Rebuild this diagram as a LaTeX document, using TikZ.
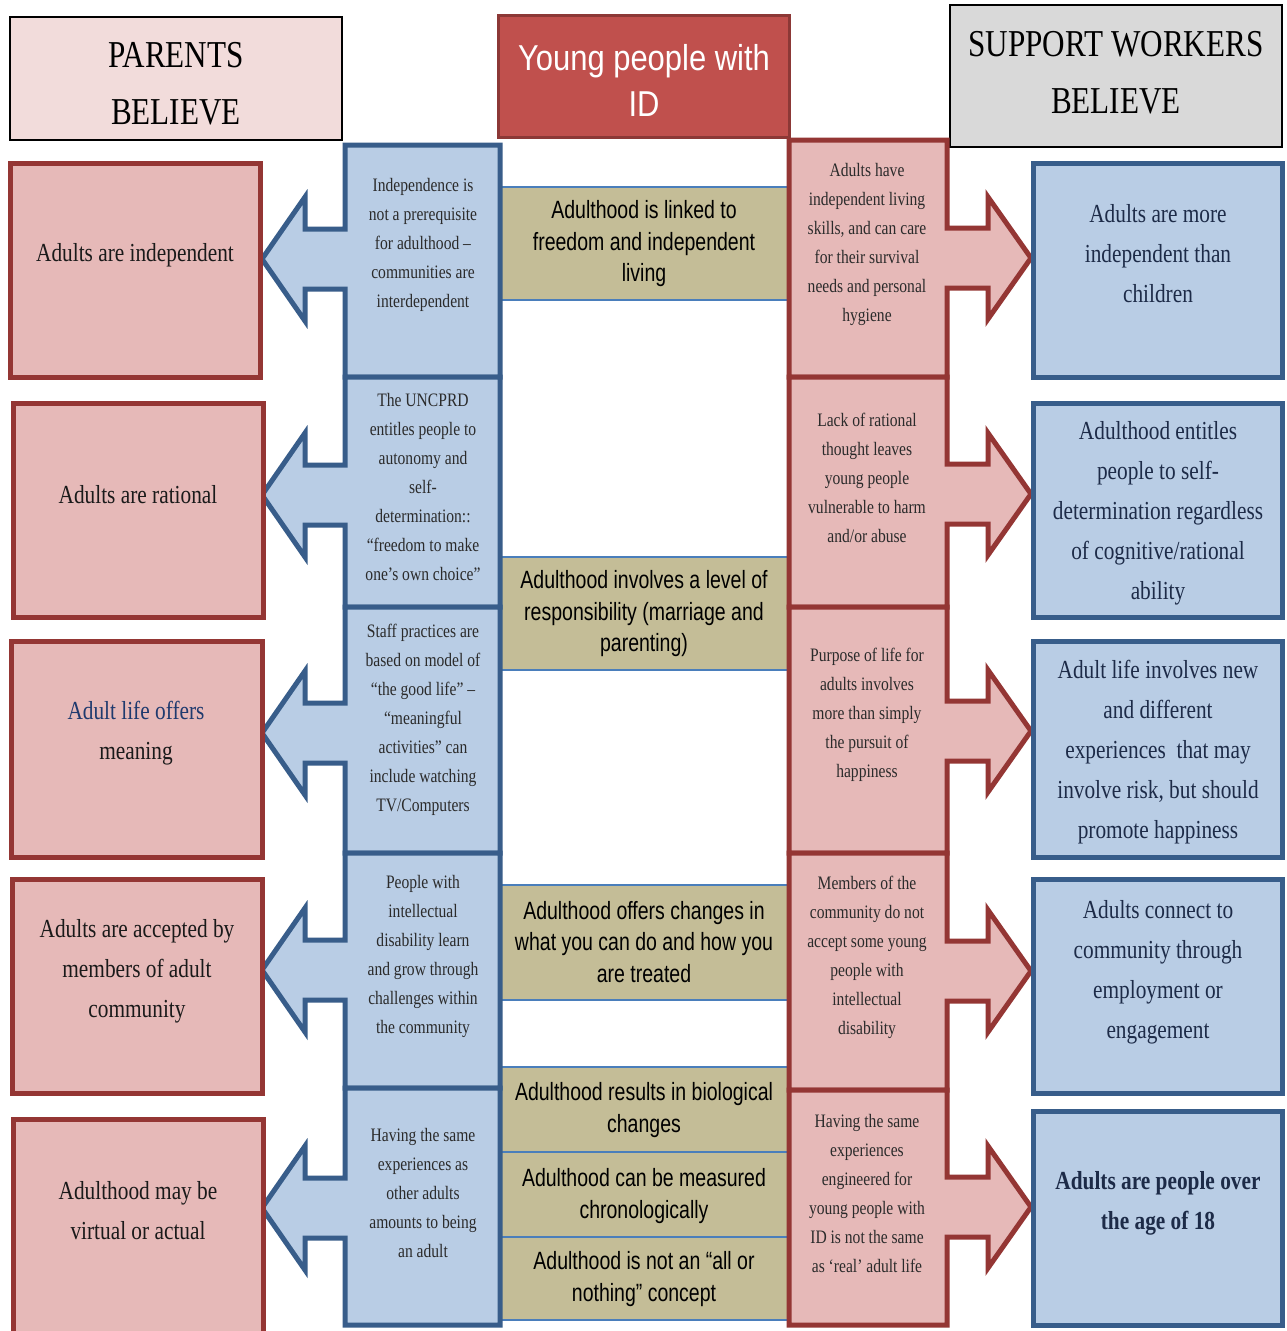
\documentclass[tikz,border=0pt]{standalone}
\usepackage{fontspec}
\newfontfamily\serifc[FakeStretch=0.82]{Liberation Serif}
\newfontfamily\sansc[FakeStretch=0.78]{Liberation Sans}
\newfontfamily\sanshead[FakeStretch=0.86]{Liberation Sans}
\definecolor{pinkfill}{HTML}{E6B9B8}
\definecolor{pinkline}{HTML}{943634}
\definecolor{bluefill}{HTML}{B9CDE5}
\definecolor{blueline}{HTML}{385D8A}
\definecolor{tanfill}{HTML}{C4BD97}
\definecolor{tanline}{HTML}{4A7EBB}
\definecolor{redfill}{HTML}{C0504D}
\definecolor{redline}{HTML}{8C3836}
\definecolor{rosefill}{HTML}{F2DCDB}
\definecolor{greyfill}{HTML}{D9D9D9}
\definecolor{inkdark}{HTML}{1A1A1A}
\definecolor{inkgrey}{HTML}{2B2B2B}
\definecolor{inknavy}{HTML}{1D2B48}
\definecolor{inkblue}{HTML}{1F3A6E}

% box with an arrow on its left side (blue column)
\newcommand\BlueArrowBox[3]{% top, bottom, arrow centre
  \draw[blueshape] (500,#1) -- (345,#1) -- (345,#3-30) -- (305,#3-30) -- (305,#3-62)
    -- (262,#3) -- (305,#3+62) -- (305,#3+30) -- (345,#3+30) -- (345,#2) -- (500,#2) -- cycle;}
% box with an arrow on its right side (pink column)
\newcommand\PinkArrowBox[3]{% top, bottom, arrow centre
  \draw[pinkshape] (789,#1) -- (947,#1) -- (947,#3-30) -- (988,#3-30) -- (988,#3-61)
    -- (1031,#3) -- (988,#3+61) -- (988,#3+30) -- (947,#3+30) -- (947,#2) -- (789,#2) -- cycle;}

\begin{document}
\begin{tikzpicture}[x=1pt,y=-1pt,line join=miter,
  pinkshape/.style={fill=pinkfill,draw=pinkline,line width=5pt},
  blueshape/.style={fill=bluefill,draw=blueline,line width=5pt},
  tanbox/.style={fill=tanfill,draw=tanline,line width=2pt},
  bigtxt/.style={align=center,inner sep=0pt,text=inkdark,font=\serifc\fontsize{26}{40}\selectfont},
  navytxt/.style={bigtxt,text=inknavy},
  smalltxt/.style={align=center,inner sep=0pt,text=inkgrey,font=\serifc\fontsize{19}{29}\selectfont},
  tantxt/.style={align=center,inner sep=0pt,text=black,font=\sansc\fontsize{25}{31.5}\selectfont},
  headtxt/.style={align=center,inner sep=0pt,text=black,font=\serifc\fontsize{38}{57}\selectfont}]
\useasboundingbox (0,0) rectangle (1286,1331);
\fill[white] (0,0) rectangle (1286,1331);

% ---------- headers ----------
\draw[fill=rosefill,draw=black,line width=2.5pt] (10,17) rectangle (342,140);
\node[headtxt] (hparents) at (176,84) {PARENTS\\BELIEVE};
\draw[fill=redfill,draw=redline,line width=3pt] (498,15) rectangle (789,137);
\node[align=center,inner sep=0pt,text=white,font=\sanshead\fontsize{36}{46}\selectfont] (hyoung) at (644,80) {Young people with\\ID};
\draw[fill=greyfill,draw=black,line width=2.5pt] (950,5) rectangle (1282,147);
\node[headtxt] (hsupport) at (1116,73) {SUPPORT WORKERS\\BELIEVE};

% ---------- central statements ----------
\draw[tanbox] (500,187) rectangle (789,300);
\draw[tanbox] (500,557) rectangle (789,670);
\draw[tanbox] (500,885) rectangle (789,1000);
\draw[tanbox] (500,1067) rectangle (789,1152);
\draw[tanbox] (500,1152) rectangle (789,1237);
\draw[tanbox] (500,1237) rectangle (789,1320);
\node[tantxt] (c1) at (644,244) {Adulthood is linked to\\freedom and independent\\living};
\node[tantxt] (c2) at (644,614) {Adulthood involves a level of\\responsibility (marriage and\\parenting)};
\node[tantxt] (c3) at (644,942) {Adulthood offers changes in\\what you can do and how you\\are treated};
\node[tantxt] (c4) at (644,1110) {Adulthood results in biological\\changes};
\node[tantxt] (c5) at (644,1196) {Adulthood can be measured\\chronologically};
\node[tantxt] (c6) at (644,1279) {Adulthood is not an “all or\\nothing” concept};

% ---------- blue column with arrows to the parents' beliefs ----------
\BlueArrowBox{145}{377}{259}
\BlueArrowBox{377}{607}{495}
\BlueArrowBox{607}{853}{733}
\BlueArrowBox{853}{1088}{970}
\BlueArrowBox{1088}{1325}{1208}
\node[smalltxt] (b1) at (423,245) {Independence is\\not a prerequisite\\for adulthood –\\communities are\\interdependent};
\node[smalltxt] (b2) at (423,487) {The UNCPRD\\entitles people to\\autonomy and\\self-\\determination::\\“freedom to make\\one’s own choice”};
\node[smalltxt] (b3) at (423,720) {Staff practices are\\based on model of\\“the good life” –\\“meaningful\\activities” can\\include watching\\TV/Computers};
\node[smalltxt] (b4) at (423,956) {People with\\intellectual\\disability learn\\and grow through\\challenges within\\the community};
\node[smalltxt] (b5) at (423,1193) {Having the same\\experiences as\\other adults\\amounts to being\\an adult};

% ---------- pink column with arrows to the support workers' beliefs ----------
\PinkArrowBox{140}{377}{258}
\PinkArrowBox{377}{607}{494}
\PinkArrowBox{607}{853}{731}
\PinkArrowBox{853}{1090}{971}
\PinkArrowBox{1090}{1325}{1207}
\node[smalltxt] (p1) at (867,244) {Adults have\\independent living\\skills, and can care\\for their survival\\needs and personal\\hygiene};
\node[smalltxt] (p2) at (867,478) {Lack of rational\\thought leaves\\young people\\vulnerable to harm\\and/or abuse};
\node[smalltxt] (p3) at (867,715) {Purpose of life for\\adults involves\\more than simply\\the pursuit of\\happiness};
\node[smalltxt] (p4) at (867,957) {Members of the\\community do not\\accept some young\\people with\\intellectual\\disability};
\node[smalltxt] (p5) at (867,1193) {Having the same\\experiences\\engineered for\\young people with\\ID is not the same\\as ‘real’ adult life};

% ---------- parents' beliefs ----------
\draw[pinkshape] (10,163) rectangle (260,377);
\draw[pinkshape] (13,403) rectangle (263,617);
\draw[pinkshape] (11,641) rectangle (262,857);
\draw[pinkshape] (12,879) rectangle (262,1093);
\draw[pinkshape] (13,1119) rectangle (263,1340);
\node[bigtxt] (l1) at (135,255) {Adults are independent};
\node[bigtxt] (l2) at (138,495) {Adults are rational};
\node[bigtxt] (l3) at (136,733) {\textcolor{inkblue}{Adult life offers}\\meaning};
\node[bigtxt] (l4) at (137,971) {Adults are accepted by\\members of adult\\community};
\node[bigtxt] (l5) at (138,1211) {Adulthood may be\\virtual or actual};

% ---------- support workers' beliefs ----------
\draw[blueshape] (1033,163) rectangle (1282,377);
\draw[blueshape] (1033,403) rectangle (1282,617);
\draw[blueshape] (1033,641) rectangle (1282,857);
\draw[blueshape] (1033,879) rectangle (1282,1093);
\draw[blueshape] (1033,1111) rectangle (1282,1325);
\node[navytxt] (r1) at (1158,254) {Adults are more\\independent than\\children};
\node[navytxt] (r2) at (1158,513) {Adulthood entitles\\people to self-\\determination regardless\\of cognitive/rational\\ability};
\node[navytxt] (r3) at (1158,752) {Adult life involves new\\and different\\experiences\ \ that may\\involve risk, but should\\promote happiness};
\node[navytxt] (r4) at (1158,972) {Adults connect to\\community through\\employment or\\engagement};
\node[navytxt,font=\serifc\bfseries\fontsize{26}{40}\selectfont] (r5) at (1158,1203) {Adults are people over\\the age of 18};
\end{tikzpicture}
\end{document}
